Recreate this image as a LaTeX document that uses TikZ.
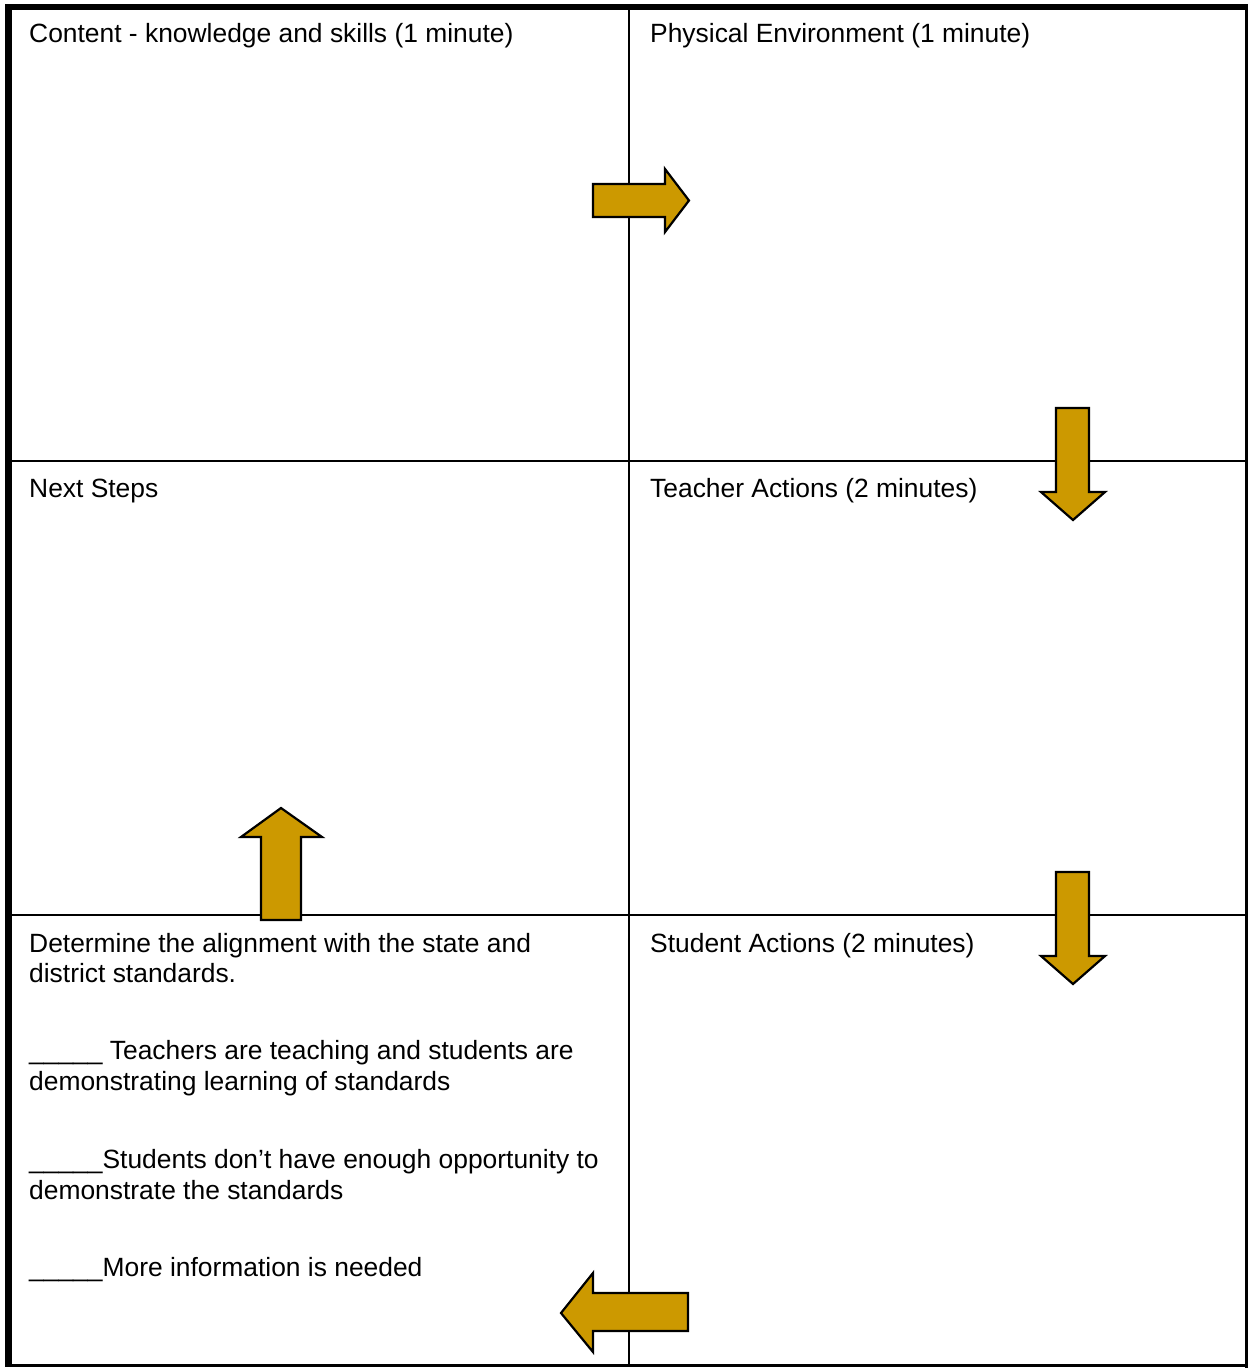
\documentclass[tikz,border=0pt]{standalone}
\usepackage{fontspec}
\setmainfont{Liberation Sans}
\definecolor{gold}{HTML}{CC9900}
\begin{document}
\begin{tikzpicture}[x=1pt,y=-1pt,
  lbl/.style={anchor=base west,inner sep=0pt,font=\fontsize{26.4}{30}\selectfont},
  arr/.style={fill=gold,draw=black,line width=2.2pt,line join=miter}]
\useasboundingbox (0,0) rectangle (1249,1368);
\fill[white] (0,0) rectangle (1249,1368);
% grid lines
\draw[line width=2.4pt] (629,6) -- (629,1366);
\draw[line width=2.4pt] (8,460.7) -- (1247,460.7);
\draw[line width=2.4pt] (8,915) -- (1247,915);
% outer border
\draw[line width=7pt] (8.5,1366) -- (8.5,6.75);
\draw[line width=6.5pt] (5,6.75) -- (1248,6.75);
\draw[line width=3.5pt] (1246.5,5) -- (1246.5,1367.5);
\draw[line width=3.5pt] (5,1365.5) -- (1248,1365.5);
% texts
\node[lbl] (t1) at (29,42) {Content - knowledge and skills (1 minute)};
\node[lbl] (t2) at (650,42) {Physical Environment (1 minute)};
\node[lbl] (t3) at (29,497) {Next Steps};
\node[lbl] (t4) at (650,497) {Teacher Actions (2 minutes)};
\node[lbl] (t5) at (650,952) {Student Actions (2 minutes)};
\node[lbl] (b1) at (29,952) {Determine the alignment with the state and};
\node[lbl] (b2) at (29,982) {district standards.};
\node[lbl] (b3) at (29,1059) {\_\_\_\_\_ Teachers are teaching and students are};
\node[lbl] (b4) at (29,1090) {demonstrating learning of standards};
\node[lbl] (b5) at (29,1168) {\_\_\_\_\_Students don’t have enough opportunity to};
\node[lbl] (b6) at (29,1199) {demonstrate the standards};
\node[lbl] (b7) at (29,1276) {\_\_\_\_\_More information is needed};
% arrows
\draw[arr] (593,184) -- (665,184) -- (665,169) -- (689,200.5) -- (665,232) -- (665,217) -- (593,217) -- cycle;
\draw[arr] (1056,408) -- (1089,408) -- (1089,492) -- (1105,492) -- (1073,520) -- (1041,492) -- (1056,492) -- cycle;
\draw[arr] (1056,872) -- (1089,872) -- (1089,956) -- (1105,956) -- (1073,984) -- (1041,956) -- (1056,956) -- cycle;
\draw[arr] (261,920) -- (301,920) -- (301,837) -- (322,837) -- (281,808) -- (241,837) -- (261,837) -- cycle;
\draw[arr] (688,1293) -- (593,1293) -- (593,1273) -- (561,1313) -- (593,1352) -- (593,1331) -- (688,1331) -- cycle;
\end{tikzpicture}
\end{document}
